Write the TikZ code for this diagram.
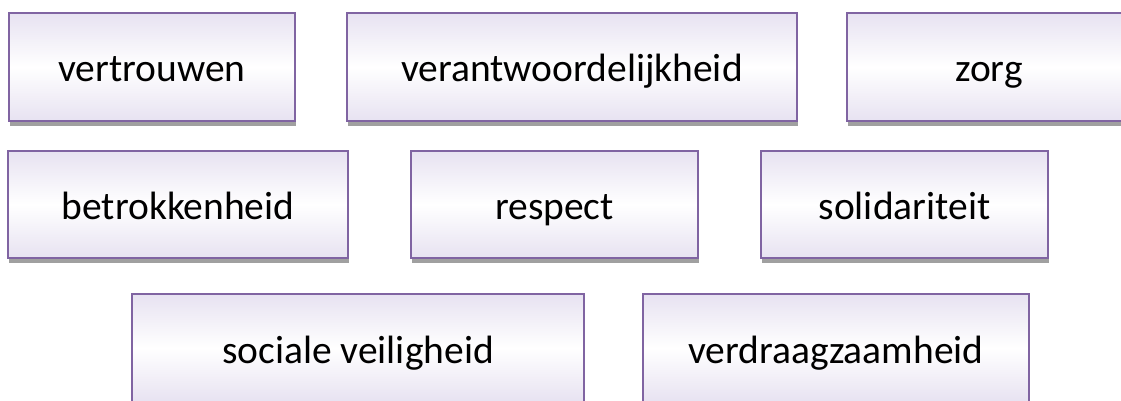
\documentclass[tikz,border=0pt]{standalone}
\usepackage{fontspec}
\setmainfont{Carlito}
\usetikzlibrary{shadows}
\definecolor{boxpurple}{RGB}{128,100,162}
\definecolor{lav}{RGB}{231,226,241}
\definecolor{shadowgray}{RGB}{160,160,160}
\tikzset{
  wordbox/.style={draw=boxpurple, line width=2pt, top color=lav, bottom color=lav, middle color=white,
    inner sep=0pt, outer sep=0pt, minimum height=108pt, font=\fontsize{39.5}{47}\selectfont, text=black,
    text height=30pt, text depth=0pt,
    drop shadow={shadow xshift=1pt, shadow yshift=-5pt, fill=shadowgray, opacity=1}}
}
\begin{document}
\begin{tikzpicture}[x=1pt,y=-1pt]
\useasboundingbox (0,0) rectangle (1121,401);
\clip (0,0) rectangle (1121,401);
\node[wordbox, minimum width=286pt] (vertrouwen) at (152,67) {vertrouwen};
\node[wordbox, minimum width=450pt] (verantw) at (572,67) {verantwoordelijkheid};
\node[wordbox, minimum width=284pt] (zorg) at (989,67) {zorg};
\node[wordbox, minimum width=340pt, minimum height=107pt] (betrok) at (178,204.5) {betrokkenheid};
\node[wordbox, minimum width=287pt, minimum height=107pt] (respect) at (554.5,204.5) {respect};
\node[wordbox, minimum width=287pt, minimum height=107pt] (solid) at (904.5,204.5) {solidariteit};
\node[wordbox, minimum width=452pt] (sociale) at (358,348) {sociale veiligheid};
\node[wordbox, minimum width=386pt] (verdraag) at (836,348) {verdraagzaamheid};
\end{tikzpicture}
\end{document}
